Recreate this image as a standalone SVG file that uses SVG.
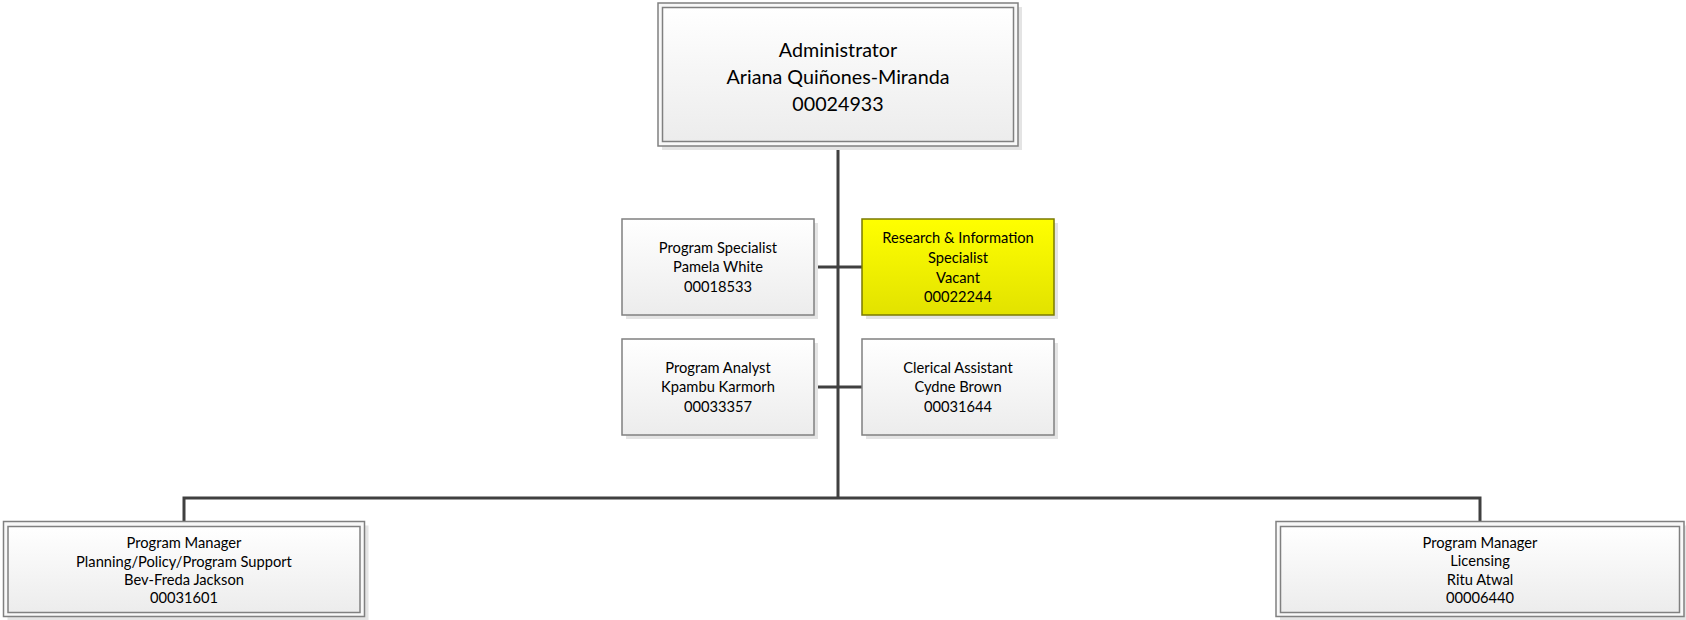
<svg xmlns="http://www.w3.org/2000/svg" width="1686" height="620" viewBox="0 0 1686 620">
<defs>
<linearGradient id="gw" x1="0" y1="0" x2="0" y2="1">
<stop offset="0" stop-color="#ffffff"/>
<stop offset="1" stop-color="#ececec"/>
</linearGradient>
<linearGradient id="gy" x1="0" y1="0" x2="0" y2="1">
<stop offset="0" stop-color="#ffff00"/>
<stop offset="1" stop-color="#e2e200"/>
</linearGradient>
<style>
.sh{fill:#e4e4e4;stroke:none}
.box{fill:url(#gw);stroke:#808080;stroke-width:1.5}
.out{fill:#f8f8f8;stroke:#808080;stroke-width:1.5}
.yel{fill:url(#gy);stroke:#7a7a00;stroke-width:1.5}
.t{font-family:Lato,"Liberation Sans",sans-serif;font-size:14.7px;fill:#000;text-anchor:middle}
.tb{font-family:Lato,"Liberation Sans",sans-serif;font-size:19.7px;fill:#000;text-anchor:middle}
.c{fill:none;stroke:#404040;stroke-width:3}
</style>
</defs>
<g id="connectors">
<line class="c" x1="838" y1="146" x2="838" y2="498"/>
<line class="c" x1="814" y1="267" x2="862" y2="267"/>
<line class="c" x1="814" y1="387" x2="862" y2="387"/>
<polyline class="c" points="184,521.5 184,498 1480,498 1480,521.5"/>
</g>
<g id="admin">
<rect class="sh" x="662" y="7" width="360" height="143"/>
<rect class="out" x="658" y="3" width="360" height="143"/>
<rect class="box" x="662.5" y="7.5" width="351" height="134"/>
<text class="tb" x="838" y="56.5">Administrator</text>
<text class="tb" x="838" y="83.5">Ariana Quiñones-Miranda</text>
<text class="tb" x="838" y="110.5">00024933</text>
</g>
<g id="program-specialist">
<rect class="sh" x="626" y="223" width="192" height="96"/>
<rect class="box" x="622" y="219" width="192" height="96"/>
<text class="t" x="718" y="253">Program Specialist</text>
<text class="t" x="718" y="272">Pamela White</text>
<text class="t" x="718" y="291.5">00018533</text>
</g>
<g id="research-specialist">
<rect class="sh" x="866" y="223" width="192" height="96"/>
<rect class="yel" x="862" y="219" width="192" height="96"/>
<text class="t" x="958" y="243">Research &amp; Information</text>
<text class="t" x="958" y="263">Specialist</text>
<text class="t" x="958" y="282.5">Vacant</text>
<text class="t" x="958" y="301.5">00022244</text>
</g>
<g id="program-analyst">
<rect class="sh" x="626" y="343" width="192" height="96"/>
<rect class="box" x="622" y="339" width="192" height="96"/>
<text class="t" x="718" y="373">Program Analyst</text>
<text class="t" x="718" y="392">Kpambu Karmorh</text>
<text class="t" x="718" y="411.5">00033357</text>
</g>
<g id="clerical-assistant">
<rect class="sh" x="866" y="343" width="192" height="96"/>
<rect class="box" x="862" y="339" width="192" height="96"/>
<text class="t" x="958" y="373">Clerical Assistant</text>
<text class="t" x="958" y="392">Cydne Brown</text>
<text class="t" x="958" y="411.5">00031644</text>
</g>
<g id="pm-planning">
<rect class="sh" x="7.5" y="525.5" width="361" height="95"/>
<rect class="out" x="3.5" y="521.5" width="361" height="95"/>
<rect class="box" x="8" y="526.5" width="352" height="86"/>
<text class="t" x="184" y="548">Program Manager</text>
<text class="t" x="184" y="566.5">Planning/Policy/Program Support</text>
<text class="t" x="184" y="585">Bev-Freda Jackson</text>
<text class="t" x="184" y="603">00031601</text>
</g>
<g id="pm-licensing">
<rect class="sh" x="1280" y="525.5" width="408" height="95"/>
<rect class="out" x="1276" y="521.5" width="408" height="95"/>
<rect class="box" x="1280.5" y="526.5" width="399" height="86"/>
<text class="t" x="1480" y="547.5">Program Manager</text>
<text class="t" x="1480" y="566">Licensing</text>
<text class="t" x="1480" y="585">Ritu Atwal</text>
<text class="t" x="1480" y="603">00006440</text>
</g>
</svg>
